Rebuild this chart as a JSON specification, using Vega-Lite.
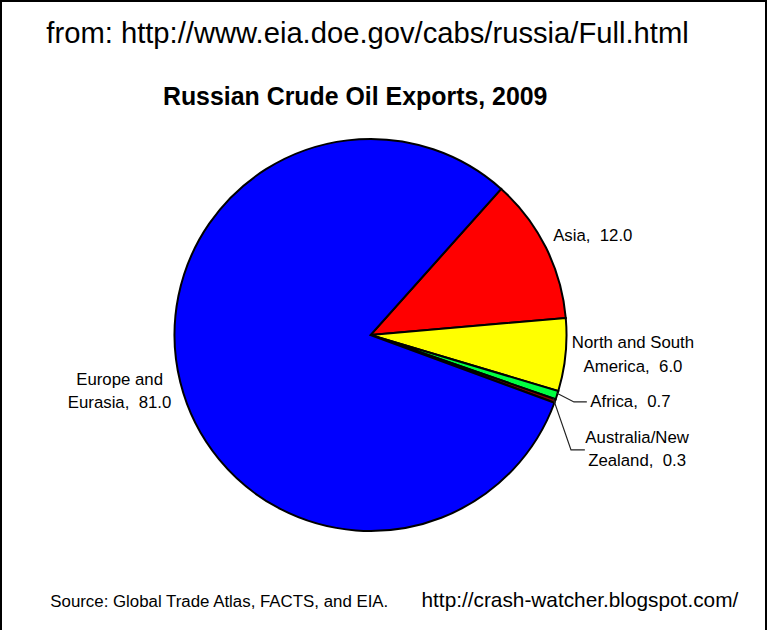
{
  "$schema": "https://vega.github.io/schema/vega-lite/v6.json",
  "width": 767,
  "height": 630,
  "padding": 0,
  "autosize": {"type": "none"},
  "background": "white",
  "config": {"view": {"stroke": null}, "text": {"font": "Liberation Sans"}},
  "datasets": {
    "exports": [
      {"region": "Asia", "share": 12.0, "rank": 1, "label": "Asia, \u00a012.0"},
      {"region": "North and South America", "share": 6.0, "rank": 2, "label": "North and South\nAmerica, \u00a06.0"},
      {"region": "Africa", "share": 0.7, "rank": 3, "label": "Africa, \u00a00.7"},
      {"region": "Australia/New Zealand", "share": 0.3, "rank": 4, "label": "Australia/New\nZealand, \u00a00.3"},
      {"region": "Europe and Eurasia", "share": 81.0, "rank": 5, "label": "Europe and\nEurasia, \u00a081.0"}
    ],
    "leaders": [
      {"leader": "Africa", "step": 1, "px": 0.927, "py": -0.293},
      {"leader": "Africa", "step": 2, "px": 1.015, "py": -0.338},
      {"leader": "Africa", "step": 3, "px": 1.08, "py": -0.338},
      {"leader": "Australia", "step": 1, "px": 0.91, "py": -0.32},
      {"leader": "Australia", "step": 2, "px": 1.0, "py": -0.58},
      {"leader": "Australia", "step": 3, "px": 1.07, "py": -0.58}
    ],
    "notes": [
      {"note": "from: http://www.eia.doe.gov/cabs/russia/Full.html"},
      {"note": "Russian Crude Oil Exports, 2009"},
      {"note": "Source: Global Trade Atlas, FACTS, and EIA."},
      {"note": "http://crash-watcher.blogspot.com/"}
    ],
    "edges": [{"edge": "frame"}]
  },
  "layer": [
    {
      "data": {"name": "exports"},
      "mark": {"type": "arc", "outerRadius": 196, "stroke": "black", "strokeWidth": 2},
      "encoding": {
        "x": {"datum": -0.0126, "type": "quantitative", "scale": {"domain": [-1.884, 1.99], "nice": false, "zero": false}, "axis": null},
        "y": {"datum": 0, "type": "quantitative", "scale": {"domain": [-1.49, 1.692], "nice": false, "zero": false}, "axis": null},
        "theta": {"field": "share", "type": "quantitative", "stack": true, "scale": {"range": [0.73, 7.013]}},
        "order": {"field": "rank"},
        "color": {
          "field": "region",
          "type": "nominal",
          "legend": null,
          "scale": {
            "domain": ["Asia", "North and South America", "Africa", "Australia/New Zealand", "Europe and Eurasia"],
            "range": ["#ff0000", "#ffff00", "#00ff40", "#800000", "#0000ff"]
          }
        }
      }
    },
    {
      "data": {"name": "leaders"},
      "mark": {"type": "line", "color": "#222222", "strokeWidth": 1.2},
      "encoding": {
        "x": {"field": "px", "type": "quantitative", "axis": null},
        "y": {"field": "py", "type": "quantitative", "axis": null},
        "detail": {"field": "leader"},
        "order": {"field": "step"}
      }
    },
    {
      "data": {"name": "exports"},
      "transform": [{"filter": "datum.rank == 1"}],
      "mark": {"type": "text", "fontSize": 16.8, "align": "center", "lineBreak": "\n"},
      "encoding": {"x": {"datum": 1.11}, "y": {"datum": 0.5}, "text": {"field": "label"}}
    },
    {
      "data": {"name": "exports"},
      "transform": [{"filter": "datum.rank == 2"}],
      "mark": {"type": "text", "fontSize": 16.8, "lineHeight": 24, "align": "center", "lineBreak": "\n"},
      "encoding": {"x": {"datum": 1.313}, "y": {"datum": -0.042}, "text": {"field": "label"}}
    },
    {
      "data": {"name": "exports"},
      "transform": [{"filter": "datum.rank == 3"}],
      "mark": {"type": "text", "fontSize": 16.8, "align": "center", "lineBreak": "\n"},
      "encoding": {"x": {"datum": 1.3}, "y": {"datum": -0.34}, "text": {"field": "label"}}
    },
    {
      "data": {"name": "exports"},
      "transform": [{"filter": "datum.rank == 4"}],
      "mark": {"type": "text", "fontSize": 16.8, "lineHeight": 23, "align": "center", "lineBreak": "\n"},
      "encoding": {"x": {"datum": 1.334}, "y": {"datum": -0.519}, "text": {"field": "label"}}
    },
    {
      "data": {"name": "exports"},
      "transform": [{"filter": "datum.rank == 5"}],
      "mark": {"type": "text", "fontSize": 16.8, "lineHeight": 23, "align": "center", "lineBreak": "\n"},
      "encoding": {"x": {"datum": -1.28}, "y": {"datum": -0.225}, "text": {"field": "label"}}
    },
    {
      "data": {"name": "notes"},
      "transform": [{"filter": "indexof(datum.note, 'from') == 0"}],
      "mark": {"type": "text", "fontSize": 29.2, "align": "left"},
      "encoding": {"x": {"datum": -1.65}, "y": {"datum": 1.52}, "text": {"field": "note"}}
    },
    {
      "data": {"name": "notes"},
      "transform": [{"filter": "indexof(datum.note, 'Russian') == 0"}],
      "mark": {"type": "text", "fontSize": 24.9, "fontWeight": "bold", "align": "center"},
      "encoding": {"x": {"datum": -0.09}, "y": {"datum": 1.195}, "text": {"field": "note"}}
    },
    {
      "data": {"name": "notes"},
      "transform": [{"filter": "indexof(datum.note, 'Source') == 0"}],
      "mark": {"type": "text", "fontSize": 16.85, "align": "left"},
      "encoding": {"x": {"datum": -1.63}, "y": {"datum": -1.35}, "text": {"field": "note"}}
    },
    {
      "data": {"name": "notes"},
      "transform": [{"filter": "indexof(datum.note, 'http') == 0"}],
      "mark": {"type": "text", "fontSize": 20.8, "align": "left"},
      "encoding": {"x": {"datum": 0.245}, "y": {"datum": -1.345}, "text": {"field": "note"}}
    },
    {
      "data": {"name": "edges"},
      "mark": {"type": "rule", "color": "black", "strokeWidth": 4},
      "encoding": {"x": {"datum": -1.884}}
    },
    {
      "data": {"name": "edges"},
      "mark": {"type": "rule", "color": "black", "strokeWidth": 4},
      "encoding": {"x": {"datum": 1.99}}
    },
    {
      "data": {"name": "edges"},
      "mark": {"type": "rule", "color": "black", "strokeWidth": 4},
      "encoding": {"y": {"datum": 1.692}}
    }
  ]
}
